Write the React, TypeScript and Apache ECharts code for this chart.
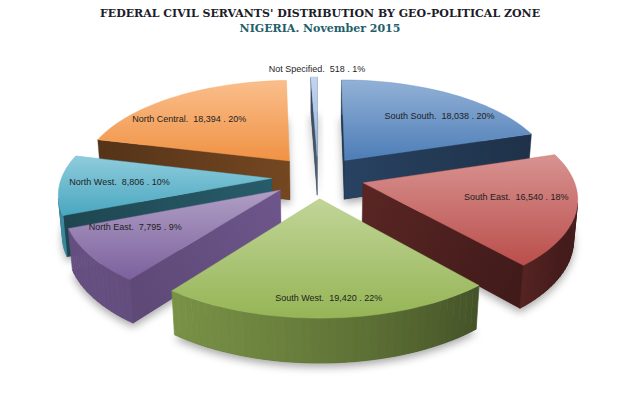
import React, { useEffect, useRef } from "react";
import * as echarts from "echarts";

const categories = ["South South", "South East", "South West", "North East", "North West", "North Central", "Not Specified"];
const values = [18038, 16540, 19420, 7795, 8806, 18394, 518];
const percentLabels = ["20%", "18%", "22%", "9%", "10%", "20%", "1%"];
const colors = ["#4F81BD", "#C0504D", "#9BBB59", "#8064A2", "#4BACC6", "#F79646", "#9DBBE6"];
const titleText = "FEDERAL CIVIL SERVANTS' DISTRIBUTION BY GEO-POLITICAL ZONE";
const subtitleText = "NIGERIA. November 2015";

const DEG = Math.PI / 180;
const CX = 318;
const CY = 177;
const SCALE = 210;
const TILT = 27.2 * DEG;
const CAM_DIST = 6.37;
const EXPLODE = 0.22;
const THICK = 0.215;

const total = values.reduce((a, b) => a + b, 0);
const starts: number[] = [];
const ends: number[] = [];
{
  let acc = 0;
  values.forEach((v) => {
    starts.push((acc / total) * 2 * Math.PI);
    acc += v;
    ends.push((acc / total) * 2 * Math.PI);
  });
}
const mids = starts.map((s, i) => (s + ends[i]) / 2);
const order = mids.map((m, i) => i).sort((a, b) => Math.cos(mids[b]) - Math.cos(mids[a]));
const rank: number[] = [];
order.forEach((idx, r) => (rank[idx] = r));

function project(X: number, Y: number, Z: number): number[] {
  const v = Y * Math.sin(TILT) + Z * Math.cos(TILT);
  const w = Y * Math.cos(TILT) - Z * Math.sin(TILT);
  const s = CAM_DIST / (CAM_DIST + w);
  return [CX + SCALE * X * s, CY - SCALE * v * s];
}
const CAM = [0, -CAM_DIST * Math.cos(TILT), CAM_DIST * Math.sin(TILT)];
function facing(n: number[], p: number[]) {
  return n[0] * (CAM[0] - p[0]) + n[1] * (CAM[1] - p[1]) + n[2] * (CAM[2] - p[2]) > 0;
}

function parse(hex: string) {
  const h = hex.replace("#", "");
  return [parseInt(h.slice(0, 2), 16), parseInt(h.slice(2, 4), 16), parseInt(h.slice(4, 6), 16)];
}
function toHex(c: number[]) {
  return "#" + c.map((x) => Math.max(0, Math.min(255, Math.round(x))).toString(16).padStart(2, "0")).join("");
}
function shade(hex: string, f: number) {
  return toHex(parse(hex).map((x) => x * f));
}
function tint(hex: string, f: number) {
  return toHex(parse(hex).map((x) => x + (255 - x) * f));
}
function fmt(v: number) {
  return String(v).replace(/\B(?=(\d{3})+(?!\d))/g, ",");
}

function outerFactor(phi: number) {
  const f = 0.5 + 0.3 * Math.cos(phi - 240 * DEG);
  return Math.max(0.36, Math.min(0.85, f));
}
function radialFactor(phi: number) {
  return 0.4 + 0.45 * Math.pow(Math.max(0, Math.cos(phi - 115 * DEG)), 6);
}

function renderItem(params: any, api: any) {
  const i = params.dataIndex;
  const color = colors[i];
  const a1 = starts[i];
  const a2 = ends[i];
  const mid = mids[i];
  const ox = EXPLODE * Math.sin(mid);
  const oy = EXPLODE * Math.cos(mid);
  const pt = (a: number, r: number, z: number) => project(ox + r * Math.sin(a), oy + r * Math.cos(a), z);
  const steps = Math.max(2, Math.ceil((a2 - a1) / (2 * DEG)));
  const arcTop: number[][] = [];
  const arcBot: number[][] = [];
  for (let k = 0; k <= steps; k++) {
    const a = a1 + ((a2 - a1) * k) / steps;
    arcTop.push(pt(a, 1, 0));
    arcBot.push(pt(a, 1, -THICK));
  }
  const apexTop = project(ox, oy, 0);
  const apexBot = project(ox, oy, -THICK);
  const base = rank[i] * 20;
  const children: any[] = [];

  children.push({
    type: "polygon",
    z2: base,
    shape: { points: [apexBot, ...arcBot] },
    style: {
      fill: shade(color, 0.4),
      shadowBlur: 8,
      shadowColor: "rgba(0,0,0,0.35)",
      shadowOffsetY: 4,
    },
  });

  const radial = (a: number, n: number[], top: number[], bot: number[]) => {
    const p = [ox + 0.5 * Math.sin(a), oy + 0.5 * Math.cos(a), -THICK / 2];
    if (!facing(n, p)) return;
    const phi = Math.atan2(n[0], n[1]);
    const f = radialFactor(phi < 0 ? phi + 2 * Math.PI : phi);
    children.push({
      type: "polygon",
      z2: base + 2,
      shape: { points: [apexTop, top, bot, apexBot] },
      style: {
        fill: {
          type: "linear",
          x: apexTop[0],
          y: apexTop[1],
          x2: top[0],
          y2: top[1],
          global: true,
          colorStops: [
            { offset: 0, color: shade(color, f + 0.07) },
            { offset: 1, color: shade(color, f - 0.06) },
          ],
        },
        stroke: shade(color, f),
        lineWidth: 0.4,
      },
    });
  };
  radial(a1, [-Math.cos(a1), Math.sin(a1), 0], arcTop[0], arcBot[0]);
  radial(a2, [Math.cos(a2), -Math.sin(a2), 0], arcTop[steps], arcBot[steps]);

  const stepA = (a2 - a1) / steps;
  for (let k = 0; k < steps; k++) {
    const phi = a1 + (k + 0.5) * stepA;
    const n = [Math.sin(phi), Math.cos(phi), 0];
    const p = [ox + Math.sin(phi), oy + Math.cos(phi), -THICK / 2];
    if (!facing(n, p)) continue;
    const c = shade(color, outerFactor(phi));
    children.push({
      type: "polygon",
      z2: base + 3,
      shape: { points: [arcTop[k], arcTop[k + 1], arcBot[k + 1], arcBot[k]] },
      style: { fill: c, stroke: c, lineWidth: 0.7 },
    });
  }

  children.push({
    type: "polygon",
    z2: base + 6,
    shape: { points: [apexTop, ...arcTop] },
    style: {
      fill: {
        type: "linear",
        x: 0,
        y: 0,
        x2: 0,
        y2: 1,
        colorStops: [
          { offset: 0, color: tint(color, 0.38) },
          { offset: 1, color: shade(color, 0.97) },
        ],
      },
      stroke: tint(color, 0.1),
      lineWidth: 0.4,
    },
  });

  const share = api.value(0) / total;
  let lp: number[];
  if (share < 0.03) {
    const q = pt(mid, 1.0, 0);
    lp = [q[0] + 3, q[1] - 8];
  } else {
    const la = mid + 0.15 * Math.sin(2 * mid);
    const r = 0.72 + 0.13 * Math.pow(Math.max(0, -Math.cos(mid)), 6);
    lp = pt(la, r, 0);
  }
  children.push({
    type: "text",
    z2: 500,
    style: {
      text: `${categories[i]}.  ${fmt(values[i])} . ${percentLabels[i]}`,
      x: lp[0],
      y: lp[1],
      fill: "#1e1e1e",
      fontSize: 9,
      fontFamily: "Liberation Sans",
      align: "center",
      verticalAlign: "middle",
    },
  });

  return { type: "group", children };
}

const option: any = {
  animation: false,
  backgroundColor: "#ffffff",
  title: {
    text: titleText,
    subtext: subtitleText,
    left: "center",
    top: 3,
    itemGap: 4,
    textStyle: { fontFamily: "DejaVu Serif", fontWeight: "bold", fontSize: 11, color: "#1c1c2a" },
    subtextStyle: { fontFamily: "DejaVu Serif", fontWeight: "bold", fontSize: 11, color: "#1f5e6a" },
  },
  series: [
    {
      type: "custom",
      coordinateSystem: "none",
      renderItem,
      data: values.map((v, i) => ({ name: categories[i], value: [v] })),
    },
  ],
};

export default function App() {
  const ref = useRef<HTMLDivElement>(null);
  useEffect(() => {
    document.body.style.margin = "0";
    const chart = echarts.init(ref.current as HTMLDivElement, null, { renderer: "svg" });
    chart.setOption(option);
    return () => chart.dispose();
  }, []);
  return <div ref={ref} style={{ width: 640, height: 409 }} />;
}
